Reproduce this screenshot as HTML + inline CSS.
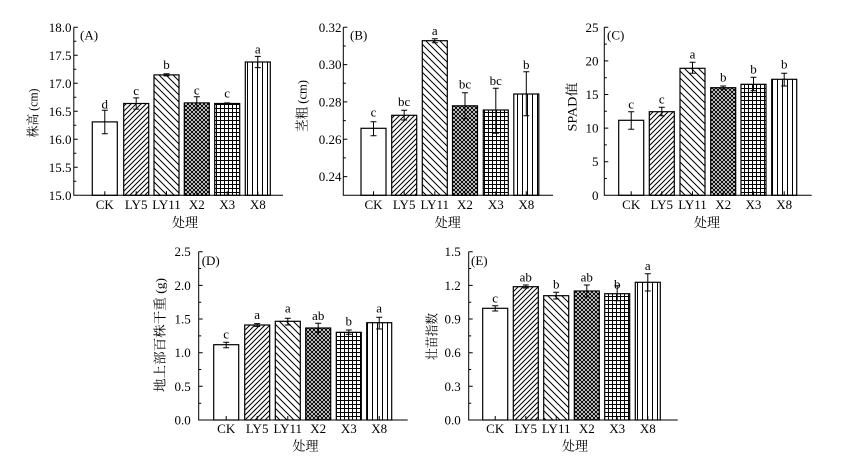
<!DOCTYPE html>
<html><head><meta charset="utf-8"><style>
html,body{margin:0;padding:0;background:#fff;}
svg{display:block;}
text{font-family:"Liberation Serif","Noto Serif CJK SC",serif;fill:#000;}
</style></head><body>
<svg width="848" height="457" viewBox="0 0 848 457" xmlns="http://www.w3.org/2000/svg">
<defs>
<pattern id="p1" width="5" height="5" patternUnits="userSpaceOnUse"><path d="M-1,1L1,-1M0,5L5,0M4,6L6,4" stroke="#000" stroke-width="1"/></pattern>
<pattern id="p2" width="7" height="7" patternUnits="userSpaceOnUse"><path d="M-1,-1L8,8M-1,6L1,8M6,-1L8,1" stroke="#000" stroke-width="1"/></pattern>
<pattern id="p3" width="4" height="4" patternUnits="userSpaceOnUse"><path d="M-1,-1L5,5M-1,5L5,-1" stroke="#000" stroke-width="1.05"/></pattern>
<pattern id="p4" width="4" height="4" patternUnits="userSpaceOnUse"><path d="M0,0.5H4M0.5,0V4" stroke="#000" stroke-width="1"/></pattern>
<pattern id="p5" width="5" height="5" patternUnits="userSpaceOnUse"><path d="M2.5,0V5" stroke="#000" stroke-width="1"/></pattern>
</defs>
<rect width="848" height="457" fill="#fff"/>

<!-- ===== Panel A ===== -->
<g stroke="#000" stroke-width="1.2">
<rect x="92.3" y="121.9" width="25" height="73.4" fill="#fff"/>
<rect x="123.7" y="103.5" width="25" height="91.8" fill="url(#p1)"/>
<rect x="154" y="74.9" width="25" height="120.4" fill="url(#p2)"/>
<rect x="184.3" y="102.9" width="25" height="92.4" fill="url(#p3)"/>
<rect x="214.7" y="103.5" width="25" height="91.8" fill="url(#p4)"/>
<rect x="245.3" y="62" width="25" height="133.3" fill="url(#p5)"/>
</g>
<path stroke="#000" stroke-width="1" fill="none" d="
M104.8,110.2V133.7M101.8,110.2h6M101.8,133.7h6
M136.2,97.9V109.1M133.2,97.9h6M133.2,109.1h6
M166.5,73.8V75.9M163.5,73.8h6M163.5,75.9h6
M196.8,96.7V109.1M193.8,96.7h6M193.8,109.1h6
M227.2,102.9V104.1M224.2,102.9h6M224.2,104.1h6
M257.8,56.4V67.6M254.8,56.4h6M254.8,67.6h6"/>
<path stroke="#000" stroke-width="1" fill="none" d="M73.8,27.3V195.3H283
M73.8,167.3h4M73.8,139.3h4M73.8,111.3h4M73.8,83.3h4M73.8,55.3h4M73.8,27.3h4
M73.8,181.3h2.5M73.8,153.3h2.5M73.8,125.3h2.5M73.8,97.3h2.5M73.8,69.3h2.5M73.8,41.3h2.5
M104.8,195.3v-4M136.2,195.3v-4M166.5,195.3v-4M196.8,195.3v-4M227.2,195.3v-4M257.8,195.3v-4"/>
<g font-size="13" text-anchor="end">
<text x="71.5" y="199.8">15.0</text><text x="71.5" y="171.8">15.5</text><text x="71.5" y="143.8">16.0</text>
<text x="71.5" y="115.8">16.5</text><text x="71.5" y="87.8">17.0</text><text x="71.5" y="59.8">17.5</text><text x="71.5" y="31.8">18.0</text>
</g>
<g font-size="13" text-anchor="middle">
<text x="104.8" y="209">CK</text><text x="136.2" y="209">LY5</text><text x="166.5" y="209">LY11</text>
<text x="196.8" y="209">X2</text><text x="227.2" y="209">X3</text><text x="257.8" y="209">X8</text>
<text x="104.8" y="108.3">d</text><text x="136.2" y="95">c</text><text x="166.5" y="69">b</text>
<text x="196.8" y="94.3">c</text><text x="227.2" y="97.3">c</text><text x="257.8" y="53.3">a</text>
<text x="185" y="227">处理</text>
</g>
<text x="80" y="39.5" font-size="13">(A)</text>
<text transform="translate(37.5,113) rotate(-90)" font-size="13" text-anchor="middle" textLength="49" lengthAdjust="spacingAndGlyphs">株高 (cm)</text>

<!-- ===== Panel B ===== -->
<g stroke="#000" stroke-width="1.2">
<rect x="361" y="128.3" width="25" height="67" fill="#fff"/>
<rect x="391.7" y="115.3" width="25" height="80" fill="url(#p1)"/>
<rect x="422.3" y="40.7" width="25" height="154.6" fill="url(#p2)"/>
<rect x="452.5" y="105.8" width="25" height="89.5" fill="url(#p3)"/>
<rect x="483.3" y="110" width="25" height="85.3" fill="url(#p4)"/>
<rect x="513.8" y="94" width="25" height="101.3" fill="url(#p5)"/>
</g>
<path stroke="#000" stroke-width="1" fill="none" d="
M373.5,121.7V135.7M370.5,121.7h6M370.5,135.7h6
M404.2,110.3V120M401.2,110.3h6M401.2,120h6
M434.8,38.7V42.7M431.8,38.7h6M431.8,42.7h6
M465,92.7V118.7M462,92.7h6M462,118.7h6
M495.8,88.3V133.3M492.8,88.3h6M492.8,133.3h6
M526.3,71.7V115.7M523.3,71.7h6M523.3,115.7h6"/>
<path stroke="#000" stroke-width="1" fill="none" d="M343.3,27.3V195.3H553
M343.3,176.6h4M343.3,139.3h4M343.3,101.9h4M343.3,64.6h4M343.3,27.3h4
M343.3,157.9h2.5M343.3,120.6h2.5M343.3,83.3h2.5M343.3,46h2.5
M373.5,195.3v-4M404.2,195.3v-4M434.8,195.3v-4M465,195.3v-4M495.8,195.3v-4M526.3,195.3v-4"/>
<g font-size="13" text-anchor="end">
<text x="341.5" y="181.1">0.24</text><text x="341.5" y="143.8">0.26</text><text x="341.5" y="106.4">0.28</text>
<text x="341.5" y="69.1">0.30</text><text x="341.5" y="31.8">0.32</text>
</g>
<g font-size="13" text-anchor="middle">
<text x="373.5" y="209">CK</text><text x="404.2" y="209">LY5</text><text x="434.8" y="209">LY11</text>
<text x="465" y="209">X2</text><text x="495.8" y="209">X3</text><text x="526.3" y="209">X8</text>
<text x="373.5" y="116.7">c</text><text x="404.2" y="106">bc</text><text x="434.8" y="35">a</text>
<text x="465" y="88.3">bc</text><text x="495.8" y="85">bc</text><text x="526.3" y="69">b</text>
<text x="447.7" y="227">处理</text>
</g>
<text x="350" y="39.5" font-size="13">(B)</text>
<text transform="translate(306.5,106) rotate(-90)" font-size="13" text-anchor="middle" textLength="52" lengthAdjust="spacingAndGlyphs">茎粗 (cm)</text>

<!-- ===== Panel C ===== -->
<g stroke="#000" stroke-width="1.2">
<rect x="618.7" y="120.3" width="25" height="75" fill="#fff"/>
<rect x="649.3" y="111.7" width="25" height="83.6" fill="url(#p1)"/>
<rect x="680" y="68.3" width="25" height="127" fill="url(#p2)"/>
<rect x="710.7" y="87.7" width="25" height="107.6" fill="url(#p3)"/>
<rect x="741" y="84.3" width="25" height="111" fill="url(#p4)"/>
<rect x="771.7" y="79.3" width="25" height="116" fill="url(#p5)"/>
</g>
<path stroke="#000" stroke-width="1" fill="none" d="
M631.2,111.7V129.3M628.2,111.7h6M628.2,129.3h6
M661.8,107.3V115.7M658.8,107.3h6M658.8,115.7h6
M692.5,62.3V73.3M689.5,62.3h6M689.5,73.3h6
M723.2,86V89.3M720.2,86h6M720.2,89.3h6
M753.5,77.3V90.7M750.5,77.3h6M750.5,90.7h6
M784.2,73.3V86M781.2,73.3h6M781.2,86h6"/>
<path stroke="#000" stroke-width="1" fill="none" d="M604.3,27.3V195.3H811.7
M604.3,161.7h4M604.3,128.1h4M604.3,94.5h4M604.3,60.9h4M604.3,27.3h4
M604.3,178.5h2.5M604.3,144.9h2.5M604.3,111.3h2.5M604.3,77.7h2.5M604.3,44.1h2.5
M631.2,195.3v-4M661.8,195.3v-4M692.5,195.3v-4M723.2,195.3v-4M753.5,195.3v-4M784.2,195.3v-4"/>
<g font-size="13" text-anchor="end">
<text x="598.5" y="199.8">0</text><text x="598.5" y="166.2">5</text><text x="598.5" y="132.6">10</text>
<text x="598.5" y="99">15</text><text x="598.5" y="65.4">20</text><text x="598.5" y="31.8">25</text>
</g>
<g font-size="13" text-anchor="middle">
<text x="631.2" y="209">CK</text><text x="661.8" y="209">LY5</text><text x="692.5" y="209">LY11</text>
<text x="723.2" y="209">X2</text><text x="753.5" y="209">X3</text><text x="784.2" y="209">X8</text>
<text x="631.2" y="108.3">c</text><text x="661.8" y="103.3">c</text><text x="692.5" y="58.3">a</text>
<text x="723.2" y="81.3">b</text><text x="753.5" y="73.3">b</text><text x="784.2" y="68.3">b</text>
<text x="707" y="227">处理</text>
</g>
<text x="607" y="39.5" font-size="13">(C)</text>
<text transform="translate(576.5,107) rotate(-90)" font-size="13" text-anchor="middle" textLength="49" lengthAdjust="spacingAndGlyphs">SPAD值</text>

<!-- ===== Panel D ===== -->
<g stroke="#000" stroke-width="1.2">
<rect x="213.7" y="344.7" width="25" height="75.3" fill="#fff"/>
<rect x="244.7" y="325" width="25" height="95" fill="url(#p1)"/>
<rect x="275.3" y="321.3" width="25" height="98.7" fill="url(#p2)"/>
<rect x="305.7" y="328" width="25" height="92" fill="url(#p3)"/>
<rect x="336.3" y="332.3" width="25" height="87.7" fill="url(#p4)"/>
<rect x="366.7" y="322.7" width="25" height="97.3" fill="url(#p5)"/>
</g>
<path stroke="#000" stroke-width="1" fill="none" d="
M226.2,342.3V347.7M223.2,342.3h6M223.2,347.7h6
M257.2,323.6V326.4M254.2,323.6h6M254.2,326.4h6
M287.8,318.3V325M284.8,318.3h6M284.8,325h6
M318.2,323.3V332.3M315.2,323.3h6M315.2,332.3h6
M348.8,330V334.3M345.8,330h6M345.8,334.3h6
M379.2,317.3V329M376.2,317.3h6M376.2,329h6"/>
<path stroke="#000" stroke-width="1" fill="none" d="M198.7,251.7V420H407.7
M198.7,386.3h4M198.7,352.7h4M198.7,319h4M198.7,285.4h4M198.7,251.7h4
M198.7,403.2h2.5M198.7,369.5h2.5M198.7,335.9h2.5M198.7,302.2h2.5M198.7,268.5h2.5
M226.2,420v-4M257.2,420v-4M287.8,420v-4M318.2,420v-4M348.8,420v-4M379.2,420v-4"/>
<g font-size="13" text-anchor="end">
<text x="190.7" y="424.5">0.0</text><text x="190.7" y="390.8">0.5</text><text x="190.7" y="357.2">1.0</text>
<text x="190.7" y="323.5">1.5</text><text x="190.7" y="289.9">2.0</text><text x="190.7" y="256.2">2.5</text>
</g>
<g font-size="13" text-anchor="middle">
<text x="226.2" y="433">CK</text><text x="257.2" y="433">LY5</text><text x="287.8" y="433">LY11</text>
<text x="318.2" y="433">X2</text><text x="348.8" y="433">X3</text><text x="379.2" y="433">X8</text>
<text x="226.2" y="338.3">c</text><text x="257.2" y="319">a</text><text x="287.8" y="312.3">a</text>
<text x="318.2" y="320">ab</text><text x="348.8" y="325.7">b</text><text x="379.2" y="312.3">a</text>
<text x="305.5" y="450.5">处理</text>
</g>
<text x="201.7" y="265" font-size="13">(D)</text>
<text transform="translate(164.5,335) rotate(-90)" font-size="13" text-anchor="middle" textLength="114" lengthAdjust="spacingAndGlyphs">地上部百株干重 (g)</text>

<!-- ===== Panel E ===== -->
<g stroke="#000" stroke-width="1.2">
<rect x="482.7" y="308.3" width="25" height="111.7" fill="#fff"/>
<rect x="513.3" y="286.7" width="25" height="133.3" fill="url(#p1)"/>
<rect x="543.7" y="295.7" width="25" height="124.3" fill="url(#p2)"/>
<rect x="574.3" y="291" width="25" height="129" fill="url(#p3)"/>
<rect x="604.7" y="293.7" width="25" height="126.3" fill="url(#p4)"/>
<rect x="635.3" y="282.3" width="25" height="137.7" fill="url(#p5)"/>
</g>
<path stroke="#000" stroke-width="1" fill="none" d="
M495.2,305.7V311M492.2,305.7h6M492.2,311h6
M525.8,285V288M522.8,285h6M522.8,288h6
M556.2,292.3V299M553.2,292.3h6M553.2,299h6
M586.8,285V297M583.8,285h6M583.8,297h6
M617.2,285.7V300.7M614.2,285.7h6M614.2,300.7h6
M647.8,273.7V291M644.8,273.7h6M644.8,291h6"/>
<path stroke="#000" stroke-width="1" fill="none" d="M468.7,251.7V420H677.7
M468.7,386.3h4M468.7,352.7h4M468.7,319h4M468.7,285.4h4M468.7,251.7h4
M468.7,403.2h2.5M468.7,369.5h2.5M468.7,335.9h2.5M468.7,302.2h2.5M468.7,268.5h2.5
M495.2,420v-4M525.8,420v-4M556.2,420v-4M586.8,420v-4M617.2,420v-4M647.8,420v-4"/>
<g font-size="13" text-anchor="end">
<text x="460.7" y="424.5">0.0</text><text x="460.7" y="390.8">0.3</text><text x="460.7" y="357.2">0.6</text>
<text x="460.7" y="323.5">0.9</text><text x="460.7" y="289.9">1.2</text><text x="460.7" y="256.2">1.5</text>
</g>
<g font-size="13" text-anchor="middle">
<text x="495.2" y="433">CK</text><text x="525.8" y="433">LY5</text><text x="556.2" y="433">LY11</text>
<text x="586.8" y="433">X2</text><text x="617.2" y="433">X3</text><text x="647.8" y="433">X8</text>
<text x="495.2" y="302.3">c</text><text x="525.8" y="281.7">ab</text><text x="556.2" y="288.3">b</text>
<text x="586.8" y="281.7">ab</text><text x="617.2" y="288.3">b</text><text x="647.8" y="270">a</text>
<text x="575" y="450.5">处理</text>
</g>
<text x="471" y="265" font-size="13">(E)</text>
<text transform="translate(436.5,336.5) rotate(-90)" font-size="13" text-anchor="middle" textLength="47" lengthAdjust="spacingAndGlyphs">壮苗指数</text>
</svg>
</body></html>
